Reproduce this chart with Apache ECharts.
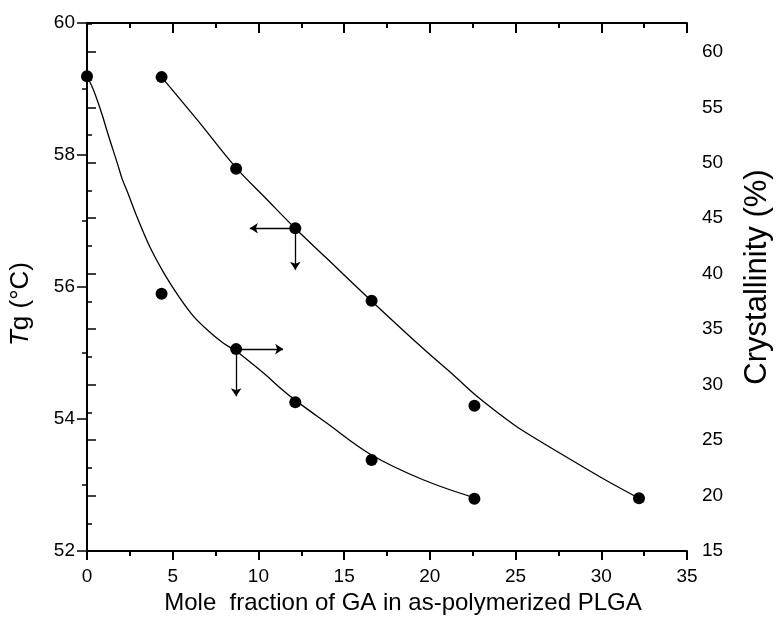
<!DOCTYPE html>
<html>
<head>
<meta charset="utf-8">
<script src="https://cdn.jsdelivr.net/npm/echarts@6/dist/echarts.min.js"></script>
<style>html,body{margin:0;padding:0;background:#fff}#c{width:781px;height:632px}</style>
</head>
<body>
<div id="c"></div>
<script>
// Measured data points
const tgX = [4.35, 8.7, 12.15, 16.6, 22.6, 32.2];
const tgY = [59.18, 57.79, 56.89, 55.79, 54.2, 52.8];
const crX = [0, 4.35, 8.7, 12.15, 16.6, 22.6];
const crY = [57.8, 38.2, 33.2, 28.4, 23.2, 19.7];
// Fitted curves
const tgFitX = [4.35, 6.47, 8.65, 10.48, 12.14, 13.92, 16.55, 19.64, 21.36, 22.68, 23.94, 25.2, 28.06, 30.35, 32.19];
const tgFitY = [59.18, 58.52, 57.82, 57.33, 56.89, 56.45, 55.8, 55.06, 54.67, 54.36, 54.1, 53.86, 53.41, 53.06, 52.8];
const crFitX = [0, 0.34, 0.63, 0.92, 1.2, 1.49, 1.78, 2.06, 2.35, 2.92, 3.67, 4.47, 5.33, 6.19, 7.04, 7.9, 8.71, 9.62, 10.48, 11.34, 12.14, 13.92, 16.55, 19.64, 22.6];
const crFitY = [57.8, 56.7, 55.5, 54.15, 52.7, 51.3, 49.9, 48.5, 47.4, 45.1, 42.4, 40.1, 38.0, 36.2, 34.9, 33.8, 33.0, 31.9, 30.8, 29.6, 28.6, 26.6, 23.7, 21.4, 19.8];
// Arrow annotations (data coordinates)
const tgArrowFrom = [12.15, 56.89];
const tgArrowLeftTo = [9.5, 56.89];
const tgArrowDownTo = [12.15, 56.26];
const crArrowFrom = [8.7, 33.2];
const crArrowRightTo = [11.44, 33.2];
const crArrowDownTo = [8.7, 28.95];
// Axis ranges / ticks
const xRange = [0, 35, 5];
const tgRange = [52, 60, 2];
const crRange = [15, 62.6, 5];

const FONT = "'Liberation Sans', Arial, sans-serif";
const zip = (a, b) => a.map((v, i) => [v, b[i]]);
const black = '#000';

const axisCommon = {
  axisLine: { show: true, lineStyle: { color: black, width: 2 } },
  splitLine: { show: false },
  minorSplitLine: { show: false }
};

const arrowLine = (from, to) => [{ coord: from }, { coord: to }];

const option = {
  backgroundColor: '#fff',
  animation: false,
  grid: { left: 87, right: 83, top: 23, bottom: 81, containLabel: false },
  xAxis: [
    Object.assign({}, axisCommon, {
      type: 'value', position: 'bottom', min: xRange[0], max: xRange[1], interval: xRange[2],
      axisTick: { show: true, inside: false, length: 9, lineStyle: { color: black, width: 2 } },
      minorTick: { show: true, splitNumber: 2, length: 5, lineStyle: { color: black, width: 2 } },
      axisLabel: { color: black, fontSize: 19, fontFamily: FONT, margin: 16 },
      name: 'Mole  fraction of GA in as-polymerized PLGA',
      nameLocation: 'middle', nameGap: 37,
      nameTextStyle: { color: black, fontSize: 24, fontFamily: FONT, padding: [0, 0, 0, 32] }
    }),
    Object.assign({}, axisCommon, {
      type: 'value', position: 'top', min: xRange[0], max: xRange[1], interval: xRange[2],
      axisTick: { show: true, inside: true, length: 10, lineStyle: { color: black, width: 2 } },
      minorTick: { show: true, splitNumber: 2, length: 5, lineStyle: { color: black, width: 2 } },
      axisLabel: { show: false }
    })
  ],
  yAxis: [
    Object.assign({}, axisCommon, {
      type: 'value', position: 'left', min: tgRange[0], max: tgRange[1], interval: tgRange[2],
      axisTick: { show: true, inside: false, length: 10, lineStyle: { color: black, width: 1.5 } },
      minorTick: { show: true, splitNumber: 2, length: 5, lineStyle: { color: black, width: 1.5 } },
      axisLabel: { color: black, fontSize: 19, fontFamily: FONT, margin: 12 },
      name: '{i|T}g (°C)',
      nameLocation: 'middle', nameGap: 53, nameRotate: 90,
      nameTextStyle: {
        color: black, fontSize: 26, fontFamily: FONT, padding: [0, 34, 0, 0],
        rich: { i: { fontStyle: 'italic', fontSize: 26, fontFamily: FONT, color: black } }
      }
    }),
    Object.assign({}, axisCommon, {
      type: 'value', position: 'right', min: crRange[0], max: crRange[1], interval: crRange[2],
      axisTick: { show: true, inside: false, length: 9, lineStyle: { color: black, width: 1.5 } },
      minorTick: { show: true, splitNumber: 2, length: 5, lineStyle: { color: black, width: 1.5 } },
      axisLabel: {
        color: black, fontSize: 19, fontFamily: FONT, margin: 15,
        formatter: v => (Math.abs(v % 5) < 1e-6 ? String(v) : '')
      },
      name: 'Crystallinity (%)',
      nameLocation: 'middle', nameGap: 55, nameRotate: 90,
      nameTextStyle: { color: black, fontSize: 31, fontFamily: FONT, padding: [0, 0, 0, 20] }
    })
  ],
  series: [
    {
      name: 'Tg fit', type: 'line', xAxisIndex: 0, yAxisIndex: 0,
      data: zip(tgFitX, tgFitY), smooth: 0.35, showSymbol: false, silent: true,
      lineStyle: { color: black, width: 1.3 }
    },
    {
      name: 'Crystallinity fit', type: 'line', xAxisIndex: 0, yAxisIndex: 1,
      data: zip(crFitX, crFitY), smooth: 0.35, showSymbol: false, silent: true,
      lineStyle: { color: black, width: 1.3 }
    },
    {
      name: 'Tg', type: 'scatter', xAxisIndex: 0, yAxisIndex: 0,
      data: zip(tgX, tgY), symbol: 'circle', symbolSize: 12,
      itemStyle: { color: black, opacity: 1 },
      markLine: {
        silent: true, symbol: ['none', 'arrow'], symbolSize: 8, precision: 3,
        label: { show: false },
        lineStyle: { color: black, width: 1.3, type: 'solid' },
        data: [arrowLine(tgArrowFrom, tgArrowLeftTo), arrowLine(tgArrowFrom, tgArrowDownTo)]
      }
    },
    {
      name: 'Crystallinity', type: 'scatter', xAxisIndex: 0, yAxisIndex: 1,
      data: zip(crX, crY), symbol: 'circle', symbolSize: 12,
      itemStyle: { color: black, opacity: 1 },
      markLine: {
        silent: true, symbol: ['none', 'arrow'], symbolSize: 8, precision: 3,
        label: { show: false },
        lineStyle: { color: black, width: 1.3, type: 'solid' },
        data: [arrowLine(crArrowFrom, crArrowRightTo), arrowLine(crArrowFrom, crArrowDownTo)]
      }
    }
  ]
};

const chart = echarts.init(document.getElementById('c'), null, { renderer: 'canvas' });
chart.setOption(option);
</script>
</body>
</html>
